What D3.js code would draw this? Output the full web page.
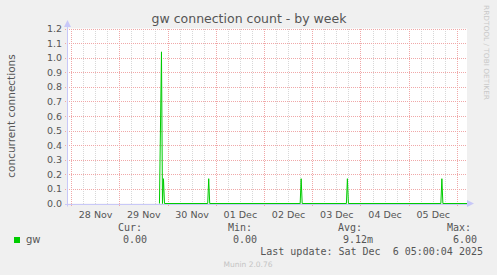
<!DOCTYPE html>
<html>
<head>
<meta charset="utf-8">
<script src="https://cdn.jsdelivr.net/npm/d3@7"></script>
<style>
  body { margin: 0; background: #f0f0f0; }
  text { font-family: "DejaVu Sans", sans-serif; fill: #555; }
  .mono { font-family: "DejaVu Sans Mono", monospace; font-size: 10px; }
</style>
</head>
<body>
<div id="chart"></div>
<script>
// samples (UTC), 30 minute steps where something happens
var sampleTimes = [
  "2025-11-29T20:00", "2025-11-29T21:00", "2025-11-29T21:30", "2025-11-29T22:00", "2025-11-29T22:30",
  "2025-11-30T20:00", "2025-11-30T20:30", "2025-11-30T21:00",
  "2025-12-02T18:00", "2025-12-02T18:30", "2025-12-02T19:00",
  "2025-12-03T17:00", "2025-12-03T17:30", "2025-12-03T18:00",
  "2025-12-05T16:00", "2025-12-05T16:30", "2025-12-05T17:00",
  "2025-12-06T05:00"
];
var gwValues = [
  0, 1.04, 0, 0.17, 0,
  0, 0.17, 0,
  0, 0.17, 0,
  0, 0.17, 0,
  0, 0.17, 0,
  0
];
var yTicks = [0, 0.1, 0.2, 0.3, 0.4, 0.5, 0.6, 0.7, 0.8, 0.9, 1.0, 1.1, 1.2];
var legendHeads = ["Cur:", "Min:", "Avg:", "Max:"];
var legendVals = ["0.00", "0.00", "9.12m", "6.00"];

var svgWidth = 497, svgHeight = 275;
var plot = { left: 67, right: 467, top: 28.5, bottom: 203.5 };

var svg = d3.select("#chart").append("svg")
  .attr("width", svgWidth).attr("height", svgHeight);

svg.append("rect").attr("width", svgWidth).attr("height", svgHeight).attr("fill", "#f0f0f0");
svg.append("rect")
  .attr("x", plot.left).attr("y", plot.top)
  .attr("width", plot.right - plot.left).attr("height", plot.bottom - plot.top)
  .attr("fill", "#fff");

var parse = d3.utcParse("%Y-%m-%dT%H:%M");
var data = sampleTimes.map((t, i) => ({ t: parse(t), v: gwValues[i] }));

var x = d3.scaleUtc()
  .domain([parse("2025-11-27T22:00"), parse("2025-12-06T05:00")])
  .range([plot.left, plot.right]);
var y = d3.scaleLinear().domain([0, 1.2]).range([plot.bottom, plot.top]);

// minor grid every 6h
var grid = svg.append("g").attr("shape-rendering", "crispEdges");
x.ticks(d3.utcHour.every(6)).forEach(function(d) {
  var px = Math.round(x(d)) + 0.5;
  grid.append("line")
    .attr("x1", px).attr("x2", px).attr("y1", plot.top).attr("y2", plot.bottom)
    .attr("stroke", "#d8d8d8").attr("stroke-dasharray", "1,1");
});
// major grid: days and every 0.1
var days = x.ticks(d3.utcDay.every(1));
days.forEach(function(d) {
  var px = Math.round(x(d)) + 0.5;
  grid.append("line")
    .attr("x1", px).attr("x2", px).attr("y1", plot.top).attr("y2", plot.bottom + 3)
    .attr("stroke", "#f0a8a8").attr("stroke-dasharray", "1,1");
});
yTicks.forEach(function(v) {
  var py = Math.round(y(v)) + 0.5;
  grid.append("line")
    .attr("x1", plot.left - 2).attr("x2", plot.right).attr("y1", py).attr("y2", py)
    .attr("stroke", "#f0a8a8").attr("stroke-dasharray", "1,1");
});

// axis lines with arrows
var axisColor = "#c8c8f8";
svg.append("line").attr("x1", plot.left + 0.5).attr("x2", plot.left + 0.5)
  .attr("y1", plot.bottom + 3).attr("y2", 24).attr("stroke", axisColor);
svg.append("path")
  .attr("d", `M${plot.left - 3},${27} L${plot.left + 4},${27} L${plot.left + 0.5},${20} Z`)
  .attr("fill", axisColor);
svg.append("line").attr("x1", plot.left - 2).attr("x2", plot.right + 3)
  .attr("y1", Math.round(plot.bottom) + 0.5).attr("y2", Math.round(plot.bottom) + 0.5)
  .attr("stroke", axisColor);
svg.append("path")
  .attr("d", `M${plot.right},${plot.bottom - 3.5} L${plot.right},${plot.bottom + 3.5} L${plot.right + 7},${plot.bottom} Z`)
  .attr("fill", axisColor);

// series
var line = d3.line().x(d => x(d.t)).y(d => y(d.v));
svg.append("path").datum(data)
  .attr("d", line)
  .attr("fill", "none")
  .attr("stroke", "#00cc00")
  .attr("stroke-width", 1);

// y labels
var leftAxis = d3.axisLeft(y).tickValues(yTicks).tickFormat(d3.format(".1f")).tickSize(0).tickPadding(5);
var yAxisG = svg.append("g").attr("transform", `translate(${plot.left},0)`).call(leftAxis);
yAxisG.select(".domain").remove();
yAxisG.selectAll("text").attr("font-size", 9.5).attr("fill", "#555").attr("font-family", "DejaVu Sans");

// x labels at noon
var noons = days.slice(0, -1).map(d => d3.utcHour.offset(d, 12));
var bottomAxis = d3.axisBottom(x).tickValues(noons).tickFormat(d3.utcFormat("%d %b")).tickSize(0).tickPadding(8);
var xAxisG = svg.append("g").attr("transform", `translate(0,${plot.bottom})`).call(bottomAxis);
xAxisG.select(".domain").remove();
xAxisG.selectAll("text").attr("font-size", 9.5).attr("fill", "#555").attr("font-family", "DejaVu Sans");

// titles
svg.append("text").attr("x", 249).attr("y", 22.5).attr("text-anchor", "middle")
  .attr("font-size", 12.5).text("gw connection count - by week");
svg.append("text").attr("transform", `translate(15,${(plot.top + plot.bottom) / 2}) rotate(-90)`)
  .attr("text-anchor", "middle").attr("font-size", 10.5).text("concurrent connections");
svg.append("text").attr("transform", "translate(484,5) rotate(90)")
  .attr("font-size", 7).attr("textLength", 95).attr("lengthAdjust", "spacingAndGlyphs")
  .style("fill", "#c8c8c8").text("RRDTOOL / TOBI OETIKER");

// legend
svg.append("rect").attr("x", 14).attr("y", 237).attr("width", 6).attr("height", 6).attr("fill", "#00cc00");
svg.append("text").attr("x", 26).attr("y", 243).attr("font-size", 10).text("gw");
var headX = [118, 228, 338, 447];
var valX = [147, 257, 373, 477];
legendHeads.forEach(function(h, i) {
  svg.append("text").attr("class", "mono").attr("x", headX[i]).attr("y", 231).text(h);
  svg.append("text").attr("class", "mono").attr("x", valX[i]).attr("y", 243)
    .attr("text-anchor", "end").text(legendVals[i]);
});
svg.append("text").attr("class", "mono").attr("x", 483).attr("y", 255).attr("text-anchor", "end")
  .attr("xml:space", "preserve").style("white-space", "pre")
  .text("Last update: Sat Dec  6 05:00:04 2025");
svg.append("text").attr("x", 248).attr("y", 267).attr("text-anchor", "middle")
  .attr("font-size", 7.5).style("fill", "#c4c4c4").text("Munin 2.0.76");
</script>
</body>
</html>
